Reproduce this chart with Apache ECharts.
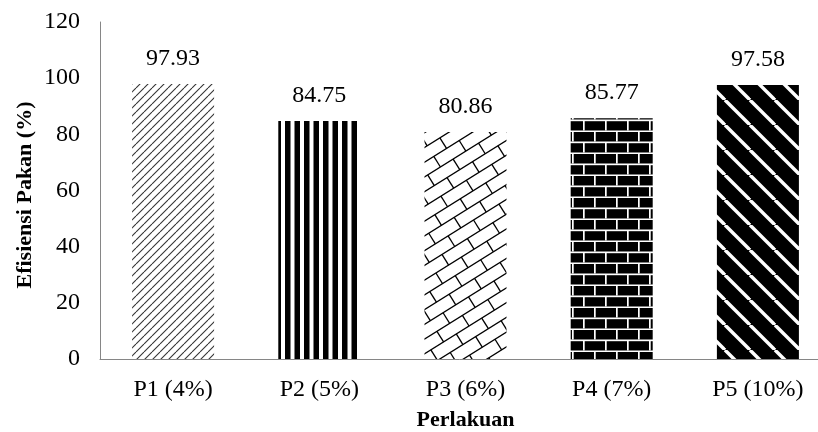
<!DOCTYPE html>
<html>
<head>
<meta charset="utf-8">
<script src="https://cdn.jsdelivr.net/npm/echarts@6/dist/echarts.min.js"></script>
<style>
html,body{margin:0;padding:0;background:#fff;}
#chart{width:818px;height:432px;}
</style>
</head>
<body>
<div id="chart"></div>
<script>
const categories = ['P1 (4%)', 'P2 (5%)', 'P3 (6%)', 'P4 (7%)', 'P5 (10%)'];
const values = [97.93, 84.75, 80.86, 85.77, 97.58];
const yTicks = { min: 0, max: 120, interval: 20 };
const xTitle = 'Perlakuan';
const yTitle = 'Efisiensi Pakan (%)';

function mk(w, h) { const c = document.createElement('canvas'); c.width = w; c.height = h; return c; }

// P1: thin "/" diagonal lines
function patP1() {
  const s = 8, c = mk(s, s), g = c.getContext('2d');
  g.fillStyle = '#fff'; g.fillRect(0, 0, s, s);
  g.strokeStyle = '#333'; g.lineWidth = 1.1;
  for (let k = -1; k <= 1; k++) {
    g.beginPath(); g.moveTo(k * s, s); g.lineTo(k * s + s, 0); g.stroke();
  }
  return c;
}
// P2: vertical stripes
function patP2() {
  const c = mk(19, 4), g = c.getContext('2d');
  g.fillStyle = '#fff'; g.fillRect(0, 0, 19, 4);
  g.fillStyle = '#000'; g.fillRect(0, 0, 5.5, 4); g.fillRect(9.5, 0, 5.5, 4);
  return c;
}
// P3: diagonal brick outline
function patP3() {
  const W = 818, H = 432, c = mk(W, H), g = c.getContext('2d');
  g.fillStyle = '#fff'; g.fillRect(0, 0, W, H);
  g.strokeStyle = '#000'; g.lineWidth = 1.3;
  g.rotate(-32 * Math.PI / 180);
  const h = 12.5, w = 30;
  for (let k = -100; k <= 100; k++) {
    const v = k * h;
    g.beginPath(); g.moveTo(-2000, v); g.lineTo(2000, v); g.stroke();
    const off = (Math.abs(k) % 2 === 0) ? 0 : w / 2;
    for (let m = -80; m <= 80; m++) {
      const u = m * w + off;
      g.beginPath(); g.moveTo(u, v); g.lineTo(u, v + h); g.stroke();
    }
  }
  return c;
}
// P4: black bricks with white mortar
function patP4() {
  const c = mk(22, 22), g = c.getContext('2d');
  g.fillStyle = '#000'; g.fillRect(0, 0, 22, 22);
  g.fillStyle = '#fff';
  g.fillRect(0, 9.5, 22, 1.7); g.fillRect(0, 20.5, 22, 1.5);
  g.fillRect(0, 0, 1.7, 9.5); g.fillRect(11, 11, 1.7, 9.5);
  return c;
}
// P5: black with white "\" diagonal lines
function patP5() {
  const s = 25, c = mk(s, s), g = c.getContext('2d');
  g.fillStyle = '#000'; g.fillRect(0, 0, s, s);
  g.strokeStyle = '#fff'; g.lineWidth = 3.4;
  for (let k = -1; k <= 1; k++) {
    g.beginPath(); g.moveTo(k * s, 0); g.lineTo(k * s + s, s); g.stroke();
  }
  return c;
}
const patterns = [patP1(), patP2(), patP3(), patP4(), patP5()];

const font = 'Liberation Serif, Times New Roman, serif';
const chart = echarts.init(document.getElementById('chart'), null, { renderer: 'canvas' });
chart.setOption({
  backgroundColor: '#fff',
  animation: false,
  grid: { left: 100, top: 22, bottom: 73, width: 731, containLabel: false, outerBoundsMode: 'none' },
  graphic: [{
    type: 'text',
    x: 25, y: 195,
    rotation: Math.PI / 2,
    style: {
      text: yTitle,
      font: 'bold 22px ' + font,
      fill: '#000',
      textAlign: 'center',
      textVerticalAlign: 'middle'
    }
  }],
  xAxis: {
    type: 'category',
    data: categories,
    name: xTitle,
    nameLocation: 'middle',
    nameGap: 50,
    nameTextStyle: { fontFamily: font, fontSize: 22, fontWeight: 'bold', color: '#000' },
    axisLine: { lineStyle: { color: '#868686', width: 1 } },
    axisTick: { show: false },
    axisLabel: { fontFamily: font, fontSize: 24, color: '#000', margin: 19 }
  },
  yAxis: {
    type: 'value',
    min: yTicks.min, max: yTicks.max, interval: yTicks.interval,
    axisLine: { show: true, lineStyle: { color: '#868686', width: 1 } },
    axisTick: { show: false },
    splitLine: { show: false },
    axisLabel: { fontFamily: font, fontSize: 24, color: '#000', margin: 20 }
  },
  series: [{
    type: 'bar',
    barWidth: 82,
    data: values.map((v, i) => ({
      value: v,
      itemStyle: { color: { image: patterns[i], repeat: 'repeat' } }
    })),
    label: {
      show: true, position: 'top', distance: 13,
      fontFamily: font, fontSize: 24, color: '#000',
      formatter: p => p.value.toFixed(2)
    }
  }]
});
</script>
</body>
</html>
